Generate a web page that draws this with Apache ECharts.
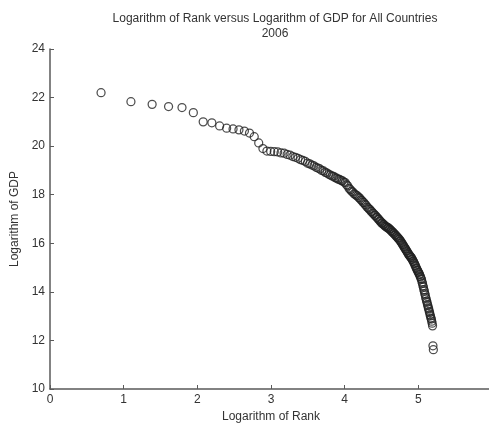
<!DOCTYPE html>
<html>
<head>
<meta charset="utf-8">
<script src="https://cdn.jsdelivr.net/npm/echarts@6/dist/echarts.min.js"></script>
<style>html,body{margin:0;padding:0;background:#fff}#c{width:489px;height:424px}</style>
</head>
<body>
<div id="c"></div>
<script>
// Country ranks (rank 1 not shown in the original)
var ranks = [
  2,3,4,5,6,7,8,9,10,
  11,12,13,14,15,16,17,18,19,20,
  21,22,23,24,25,26,27,28,29,30,
  31,32,33,34,35,36,37,38,39,40,
  41,42,43,44,45,46,47,48,49,50,
  51,52,53,54,55,56,57,58,59,60,
  61,62,63,64,65,66,67,68,69,70,
  71,72,73,74,75,76,77,78,79,80,
  81,82,83,84,85,86,87,88,89,90,
  91,92,93,94,95,96,97,98,99,100,
  101,102,103,104,105,106,107,108,109,110,
  111,112,113,114,115,116,117,118,119,120,
  121,122,123,124,125,126,127,128,129,130,
  131,132,133,134,135,136,137,138,139,140,
  141,142,143,144,145,146,147,148,149,150,
  151,152,153,154,155,156,157,158,159,160,
  161,162,163,164,165,166,167,168,169,170,
  171,172,173,174,175,176,177,178,179,180,
  181,182
];
// Logarithm of GDP
var logGdp = [
  22.2,21.83,21.72,21.63,21.59,21.38,21.0,20.96,20.83,
  20.74,20.71,20.67,20.62,20.54,20.39,20.13,19.9,19.8,19.78,
  19.77,19.76,19.72,19.71,19.66,19.63,19.57,19.54,19.5,19.44,
  19.41,19.37,19.3,19.27,19.22,19.19,19.13,19.1,19.06,19.0,
  18.98,18.92,18.89,18.84,18.81,18.77,18.76,18.7,18.68,18.64,
  18.63,18.59,18.57,18.52,18.5,18.41,18.36,18.26,18.21,18.14,
  18.11,18.04,18.01,17.97,17.95,17.89,17.86,17.79,17.76,17.69,
  17.67,17.6,17.57,17.49,17.46,17.41,17.39,17.32,17.3,17.24,
  17.22,17.16,17.14,17.08,17.06,17.0,16.98,16.92,16.9,16.84,
  16.83,16.78,16.77,16.72,16.71,16.67,16.67,16.63,16.63,16.59,
  16.58,16.53,16.52,16.47,16.46,16.41,16.4,16.35,16.34,16.29,
  16.28,16.23,16.22,16.17,16.16,16.1,16.08,16.02,16.0,15.94,
  15.92,15.86,15.84,15.78,15.76,15.7,15.68,15.62,15.6,15.54,
  15.53,15.48,15.47,15.42,15.41,15.35,15.33,15.27,15.25,15.19,
  15.16,15.09,15.06,14.99,14.96,14.9,14.88,14.82,14.8,14.74,
  14.71,14.64,14.61,14.54,14.51,14.41,14.35,14.25,14.19,14.09,
  14.03,13.93,13.87,13.77,13.71,13.62,13.57,13.48,13.43,13.34,
  13.29,13.2,13.15,13.06,13.01,12.92,12.88,12.79,12.71,12.6,
  11.78,11.62
];
var xTicks = [0,1,2,3,4,5,6];
var yTicks = [10,12,14,16,18,20,22,24];

var data = ranks.map(function(r, i){ return [Math.log(r), logGdp[i]]; });

var chart = echarts.init(document.getElementById('c'), null, {renderer:'canvas'});
var font = 'Liberation Sans, Arial, sans-serif';
var axisCol = '#5a5a5a';
var txtCol = '#333';
chart.setOption({
  animation:false,
  backgroundColor:'#fff',
  title:{
    text:'Logarithm of Rank versus Logarithm of GDP for All Countries\n2006',
    left:270, top:6, textAlign:'center',
    textStyle:{fontFamily:font, fontSize:12, fontWeight:'normal', color:txtCol, lineHeight:15}
  },
  grid:{left:50, top:49, width:442, height:340, containLabel:false, outerBoundsMode:'none'},
  xAxis:{
    type:'value', min:xTicks[0], max:xTicks[xTicks.length-1], interval:1,
    name:'Logarithm of Rank', nameLocation:'middle', nameGap:22,
    nameTextStyle:{fontFamily:font, fontSize:12, color:txtCol},
    axisLine:{show:true, lineStyle:{color:axisCol, width:1.5}},
    axisTick:{show:true, inside:true, length:4, lineStyle:{color:axisCol}},
    axisLabel:{fontFamily:font, fontSize:12, color:txtCol, margin:5, showMaxLabel:true},
    splitLine:{show:false}
  },
  yAxis:{
    type:'value', min:yTicks[0], max:yTicks[yTicks.length-1], interval:2,
    name:'Logarithm of GDP', nameLocation:'middle', nameGap:25,
    nameTextStyle:{fontFamily:font, fontSize:12, color:txtCol},
    axisLine:{show:true, lineStyle:{color:axisCol, width:1.5}},
    axisTick:{show:true, inside:true, length:4, lineStyle:{color:axisCol}},
    axisLabel:{fontFamily:font, fontSize:12, color:txtCol, margin:5},
    splitLine:{show:false}
  },
  series:[{
    type:'scatter',
    data:data,
    symbol:'circle',
    symbolSize:8,
    itemStyle:{color:'rgba(0,0,0,0)', borderColor:'#222', borderWidth:1.25},
    emphasis:{disabled:true}
  }]
});
</script>
</body>
</html>
